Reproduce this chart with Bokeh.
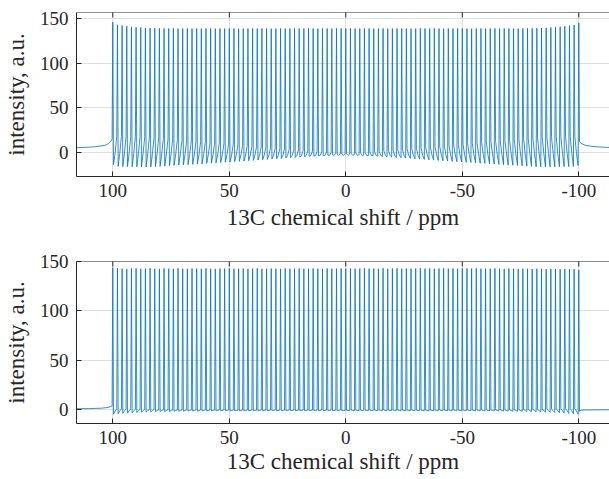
import math
from bokeh.plotting import figure
from bokeh.models import Range1d, FixedTicker, Column, Span
from bokeh.embed import file_html
from bokeh.resources import INLINE

# ---------------- data ----------------
peak_ppm = [
    100, 98, 96, 94, 92, 90, 88, 86, 84, 82,
    80, 78, 76, 74, 72, 70, 68, 66, 64, 62,
    60, 58, 56, 54, 52, 50, 48, 46, 44, 42,
    40, 38, 36, 34, 32, 30, 28, 26, 24, 22,
    20, 18, 16, 14, 12, 10, 8, 6, 4, 2,
    0, -2, -4, -6, -8, -10, -12, -14, -16, -18,
    -20, -22, -24, -26, -28, -30, -32, -34, -36, -38,
    -40, -42, -44, -46, -48, -50, -52, -54, -56, -58,
    -60, -62, -64, -66, -68, -70, -72, -74, -76, -78,
    -80, -82, -84, -86, -88, -90, -92, -94, -96, -98,
    -100]

# top spectrum (phase-distorted)
top_height = [
    146.4, 143.5, 142.7, 141.9, 141.2, 140.8, 140.4, 140.0, 139.8, 139.6,
    139.5, 139.4, 139.3, 139.4, 139.2, 139.3, 139.4, 139.2, 139.3, 139.2,
    139.4, 139.3, 139.1, 139.3, 139.2, 139.4, 139.3, 139.1, 139.2, 139.4,
    139.3, 139.2, 139.4, 139.3, 139.1, 139.3, 139.4, 139.2, 139.3, 139.4,
    139.2, 139.3, 139.4, 139.3, 139.2, 139.4, 139.3, 139.2, 139.4, 139.3,
    139.2, 139.4, 139.3, 139.2, 139.4, 139.3, 139.1, 139.3, 139.4, 139.2,
    139.3, 139.2, 139.4, 139.3, 139.1, 139.2, 139.4, 139.3, 139.2, 139.4,
    139.3, 139.1, 139.3, 139.2, 139.4, 139.3, 139.2, 139.1, 139.3, 139.4,
    139.2, 139.3, 139.4, 139.2, 139.3, 139.4, 139.3, 139.2, 139.4, 139.5,
    139.5, 139.6, 139.8, 140.1, 140.5, 140.9, 141.3, 141.9, 142.5, 143.3,
    145.7]
# value just on the high-ppm (left) side of each peak
top_left_side = [
    15.0, 17.9, 17.8, 17.7, 17.6, 17.5, 17.4, 17.3, 17.0, 16.5,
    16.0, 15.5, 15.1, 14.6, 14.1, 13.6, 13.2, 12.7, 12.2, 11.7,
    11.3, 10.8, 10.4, 9.9, 9.4, 9.0, 8.5, 8.1, 7.6, 7.2,
    6.7, 6.3, 5.9, 5.4, 5.0, 4.5, 4.1, 3.7, 3.3, 2.8,
    2.4, 2.0, 1.6, 1.2, 0.7, 0.3, -0.1, -0.5, -0.9, -1.3,
    -1.7, -2.1, -2.5, -2.9, -3.3, -3.7, -4.1, -4.5, -4.8, -5.2,
    -5.6, -6.0, -6.3, -6.7, -7.1, -7.5, -7.8, -8.2, -8.6, -8.9,
    -9.3, -9.6, -10.0, -10.3, -10.7, -11.0, -11.4, -11.7, -12.1, -12.4,
    -12.7, -13.1, -13.4, -13.7, -14.1, -14.4, -14.7, -15.0, -15.3, -15.7,
    -16.0, -16.3, -16.6, -16.7, -16.6, -16.5, -16.4, -16.3, -16.2, -16.1,
    -15.0]
# value just on the low-ppm (right) side of each peak
top_right_side = [
    -14.2, -16.1, -16.2, -16.3, -16.4, -16.5, -16.6, -16.7, -16.6, -16.3,
    -16.0, -15.7, -15.3, -15.0, -14.7, -14.4, -14.1, -13.7, -13.4, -13.1,
    -12.7, -12.4, -12.1, -11.7, -11.4, -11.0, -10.7, -10.3, -10.0, -9.6,
    -9.3, -8.9, -8.6, -8.2, -7.8, -7.5, -7.1, -6.7, -6.3, -6.0,
    -5.6, -5.2, -4.8, -4.5, -4.1, -3.7, -3.3, -2.9, -2.5, -2.1,
    -1.7, -1.3, -0.9, -0.5, -0.1, 0.3, 0.7, 1.2, 1.6, 2.0,
    2.4, 2.8, 3.3, 3.7, 4.1, 4.5, 5.0, 5.4, 5.9, 6.3,
    6.7, 7.2, 7.6, 8.1, 8.5, 9.0, 9.4, 9.9, 10.4, 10.8,
    11.3, 11.7, 12.2, 12.7, 13.2, 13.6, 14.1, 14.6, 15.1, 15.5,
    16.0, 16.5, 17.0, 17.3, 17.4, 17.5, 17.6, 17.7, 17.8, 17.9,
    12.0]
# value half-way between neighbouring peaks
top_gap_mid = [
    -1.05, -1.16, -1.26, -1.36, -1.46, -1.56, -1.66, -1.75, -1.84, -1.93,
    -2.01, -2.10, -2.18, -2.26, -2.34, -2.41, -2.49, -2.56, -2.63, -2.70,
    -2.76, -2.82, -2.88, -2.94, -3.00, -3.05, -3.10, -3.15, -3.20, -3.25,
    -3.29, -3.33, -3.37, -3.41, -3.44, -3.47, -3.50, -3.53, -3.56, -3.58,
    -3.60, -3.62, -3.64, -3.65, -3.67, -3.68, -3.69, -3.69, -3.70, -3.70,
    -3.70, -3.70, -3.69, -3.69, -3.68, -3.67, -3.65, -3.64, -3.62, -3.60,
    -3.58, -3.56, -3.53, -3.50, -3.47, -3.44, -3.41, -3.37, -3.33, -3.29,
    -3.25, -3.20, -3.15, -3.10, -3.05, -3.00, -2.94, -2.88, -2.82, -2.76,
    -2.70, -2.63, -2.56, -2.49, -2.41, -2.34, -2.26, -2.18, -2.10, -2.01,
    -1.93, -1.84, -1.75, -1.66, -1.56, -1.46, -1.36, -1.26, -1.16, -1.05]
top_left_tail_ppm = [116, 112, 108, 105, 103, 101.8, 101.0]
top_left_tail_val = [5.0, 5.4, 6.0, 7.0, 8.0, 9.8, 11.8]
top_right_tail_ppm = [-101.0, -101.8, -103, -105, -108, -112, -116]
top_right_tail_val = [10.0, 8.8, 7.6, 6.8, 6.0, 5.4, 5.0]

# bottom spectrum (phase-corrected)
bot_height = [
    144.0, 143.4, 142.8, 142.6, 143.0, 143.2, 142.7, 142.9, 143.3, 142.8,
    142.6, 143.1, 142.9, 142.7, 143.2, 142.8, 142.6, 143.0, 142.9, 142.7,
    143.1, 142.8, 142.6, 143.0, 142.9, 143.2, 142.7, 142.8, 143.0, 142.6,
    142.9, 143.1, 142.7, 142.8, 143.0, 142.9, 142.6, 143.1, 142.8, 142.9,
    143.0, 142.7, 142.8, 143.1, 142.9, 142.6, 143.0, 142.8, 142.9, 143.1,
    142.8, 143.0, 142.7, 142.9, 143.2, 142.8, 143.0, 142.9, 143.3, 142.8,
    143.0, 143.2, 142.9, 143.1, 142.8, 143.0, 143.3, 142.9, 143.1, 142.8,
    143.0, 143.2, 142.9, 143.1, 142.8, 143.0, 143.2, 142.9, 143.1, 142.8,
    143.0, 142.8, 143.1, 142.9, 142.7, 143.0, 142.8, 142.6, 142.9, 142.7,
    142.5, 142.8, 142.6, 142.4, 142.7, 142.5, 142.3, 142.6, 142.4, 142.2,
    141.7]
bot_left_side = [
    4.0, 1.0, 0.9, 0.8, 0.7, 0.6, 0.5, 0.4, 0.3, 0.2,
    0.1, 0.0, 0.0, -0.1, -0.1, -0.1, -0.1, -0.2, -0.2, -0.2,
    -0.2, -0.2, -0.2, -0.2, -0.2, -0.2, -0.3, -0.3, -0.3, -0.3,
    -0.3, -0.3, -0.3, -0.3, -0.3, -0.3, -0.3, -0.3, -0.3, -0.3,
    -0.3, -0.3, -0.3, -0.3, -0.3, -0.3, -0.3, -0.3, -0.3, -0.3,
    -0.6, -0.9, -0.9, -0.9, -0.9, -0.9, -0.9, -0.9, -0.9, -0.9,
    -0.9, -0.9, -0.9, -0.9, -0.9, -0.9, -0.9, -0.9, -1.0, -1.0,
    -1.0, -1.0, -1.0, -1.0, -1.0, -1.0, -1.0, -1.0, -1.1, -1.1,
    -1.2, -1.2, -1.3, -1.3, -1.4, -1.4, -1.5, -1.6, -1.7, -1.8,
    -1.9, -2.0, -2.2, -2.4, -2.6, -2.8, -3.1, -3.4, -3.7, -4.0,
    -4.5]
bot_right_side = [
    -4.5, -4.0, -3.7, -3.4, -3.1, -2.8, -2.6, -2.4, -2.2, -2.0,
    -1.9, -1.8, -1.7, -1.6, -1.5, -1.4, -1.4, -1.3, -1.3, -1.2,
    -1.2, -1.1, -1.1, -1.0, -1.0, -1.0, -1.0, -1.0, -1.0, -1.0,
    -1.0, -1.0, -0.9, -0.9, -0.9, -0.9, -0.9, -0.9, -0.9, -0.9,
    -0.9, -0.9, -0.9, -0.9, -0.9, -0.9, -0.9, -0.9, -0.9, -0.9,
    -0.6, -0.3, -0.3, -0.3, -0.3, -0.3, -0.3, -0.3, -0.3, -0.3,
    -0.3, -0.3, -0.3, -0.3, -0.3, -0.3, -0.3, -0.3, -0.3, -0.3,
    -0.3, -0.3, -0.3, -0.3, -0.3, -0.3, -0.3, -0.3, -0.2, -0.2,
    -0.2, -0.2, -0.2, -0.2, -0.1, -0.1, 0.0, 0.0, 0.1, 0.2,
    0.3, 0.4, 0.5, 0.6, 0.7, 0.8, 0.9, 1.0, 1.1, 1.2,
    -1.5]
bot_gap_mid = [
    -1.2, -1.1, -1.0, -1.0, -0.9, -0.9, -0.9, -0.8, -0.8, -0.8,
    -0.7, -0.7, -0.7, -0.7, -0.7, -0.7, -0.7, -0.7, -0.7, -0.7,
    -0.7, -0.7, -0.7, -0.7, -0.7, -0.7, -0.7, -0.7, -0.7, -0.7,
    -0.7, -0.7, -0.7, -0.7, -0.7, -0.7, -0.7, -0.7, -0.7, -0.7,
    -0.7, -0.7, -0.7, -0.7, -0.7, -0.7, -0.7, -0.7, -0.7, -0.7,
    -0.7, -0.7, -0.7, -0.7, -0.7, -0.7, -0.7, -0.7, -0.7, -0.7,
    -0.7, -0.7, -0.7, -0.7, -0.7, -0.7, -0.7, -0.7, -0.7, -0.7,
    -0.7, -0.7, -0.7, -0.7, -0.7, -0.7, -0.7, -0.7, -0.7, -0.7,
    -0.7, -0.7, -0.7, -0.7, -0.7, -0.7, -0.7, -0.7, -0.7, -0.7,
    -0.8, -0.8, -0.8, -0.9, -0.9, -0.9, -1.0, -1.0, -1.1, -1.2]
bot_left_tail_ppm = [116, 110, 105, 102.5, 101.2]
bot_left_tail_val = [1.0, 1.2, 1.6, 2.2, 3.0]
bot_right_tail_ppm = [-101.0, -103, -108, -114]
bot_right_tail_val = [-0.4, -0.2, -0.1, 0.0]

x_ticks = [100, 50, 0, -50, -100]
x_tick_labels = ["100", "50", "0", "-50", "-100"]
y_ticks = [0, 50, 100, 150]
y_tick_labels = ["0", "50", "100", "150"]
x_label = "13C chemical shift / ppm"
y_label = "intensity, a.u."

# ---------------- helpers ----------------
SIDE = 0.3   # half-width of a drawn spike, ppm
GAP = 1.0    # position of the between-peaks point, ppm

def build_trace(h, ls, rs, mid, ltp, ltv, rtp, rtv):
    xs, ys = list(ltp), list(ltv)
    n = len(peak_ppm)
    for k in range(n):
        p = peak_ppm[k]
        xs += [p + SIDE, p, p - SIDE]
        ys += [ls[k], h[k], rs[k]]
        if k < n - 1:
            xs.append(p - GAP)
            ys.append(mid[k])
    xs += list(rtp)
    ys += list(rtv)
    return xs, ys

FONT = "Liberation Serif"
DARK = "#262626"
GRID = "#dedede"
BLUE = "#0072BD"

X_START, X_END = 115.58, -113.18

def make_fig(height, b_top, b_bottom, yr, xs, ys, xlab_standoff):
    p = figure(width=609, height=height,
               x_range=Range1d(X_START, X_END), y_range=Range1d(*yr),
               output_backend="svg", toolbar_location=None,
               min_border_left=76, min_border_right=0,
               min_border_top=b_top, min_border_bottom=b_bottom)
    p.outline_line_color = None
    p.background_fill_color = "white"
    p.border_fill_color = "white"

    p.xaxis.ticker = FixedTicker(ticks=x_ticks)
    p.yaxis.ticker = FixedTicker(ticks=y_ticks)
    p.xgrid.ticker = FixedTicker(ticks=x_ticks)
    p.ygrid.ticker = FixedTicker(ticks=y_ticks)
    p.xaxis.major_label_overrides = dict(zip(x_ticks, x_tick_labels))
    p.yaxis.major_label_overrides = dict(zip(y_ticks, y_tick_labels))
    for g in (p.xgrid, p.ygrid):
        g.grid_line_color = GRID
        g.grid_line_width = 1

    for ax in (p.xaxis, p.yaxis):
        ax.major_tick_in = 5
        ax.major_tick_out = 0
        ax.minor_tick_line_color = None
        ax.axis_line_color = DARK
        ax.major_tick_line_color = DARK
        ax.major_label_text_font = FONT
        ax.major_label_text_font_size = "19px"
        ax.major_label_text_color = DARK
        ax.axis_label_text_font = FONT
        ax.axis_label_text_font_size = "23px"
        ax.axis_label_text_font_style = "normal"
        ax.axis_label_text_color = DARK
    p.xaxis.axis_label = x_label
    p.yaxis.axis_label = y_label
    p.xaxis.major_label_standoff = 7
    p.xaxis.axis_label_standoff = xlab_standoff
    p.yaxis.major_label_standoff = 8
    p.yaxis.axis_label_standoff = 8

    p.line(xs, ys, line_color=BLUE, line_width=0.8)

    # top edge of the box with inward ticks (the box is cut at the right)
    p.add_layout(Span(location=yr[1], dimension="width",
                      line_color=DARK, line_width=1))
    p.scatter(x_ticks, [yr[1]] * len(x_ticks), marker="dash",
              angle=math.pi / 2, size=10, line_color=DARK, line_width=1)
    return p

tx, ty = build_trace(top_height, top_left_side, top_right_side, top_gap_mid,
                     top_left_tail_ppm, top_left_tail_val,
                     top_right_tail_ppm, top_right_tail_val)
bx, by = build_trace(bot_height, bot_left_side, bot_right_side, bot_gap_mid,
                     bot_left_tail_ppm, bot_left_tail_val,
                     bot_right_tail_ppm, bot_right_tail_val)

p1 = make_fig(248, 12, 72, (-27.4, 157.3), tx, ty, 5)
p2 = make_fig(231, 13, 56, (-13.9, 150.1), bx, by, 2)

layout = Column(children=[p1, p2], spacing=0)

open("out.html", "w").write(file_html(layout, INLINE))
